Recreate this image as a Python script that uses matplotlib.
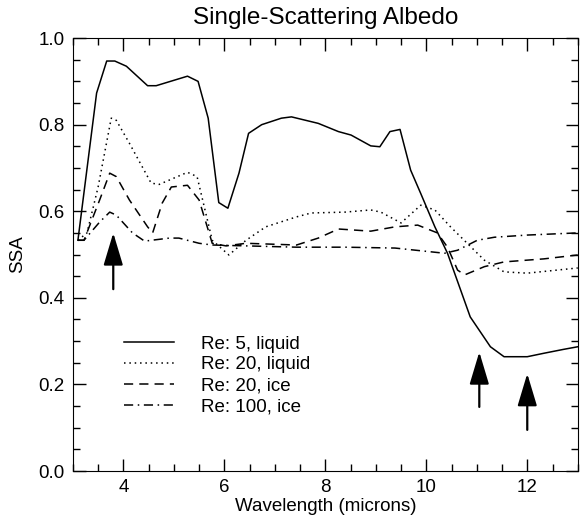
import matplotlib
matplotlib.use("Agg")
from matplotlib import pyplot as plt
from matplotlib.ticker import MultipleLocator

plt.rcParams['font.family'] = ['Liberation Sans', 'DejaVu Sans']

# Re: 5, liquid
wl_1 = [3.1, 3.47, 3.67, 3.83, 4.06, 4.48, 4.65, 5.27, 5.48, 5.68, 5.89, 6.07, 6.29, 6.48,
        6.74, 7.13, 7.33, 7.86, 8.26, 8.51, 8.9, 9.08, 9.28, 9.48, 9.69, 9.89, 10.17, 10.42,
        10.87, 11.27, 11.54, 12.0, 12.33, 12.72, 13.0]
ssa_1 = [0.533, 0.873, 0.947, 0.947, 0.935, 0.89, 0.89, 0.912, 0.90, 0.815, 0.62, 0.607, 0.688, 0.78,
         0.80, 0.815, 0.818, 0.803, 0.784, 0.776, 0.751, 0.749, 0.784, 0.789, 0.695, 0.641, 0.564, 0.503,
         0.356, 0.287, 0.264, 0.264, 0.272, 0.281, 0.287]

# Re: 20, liquid
wl_2 = [3.1, 3.28, 3.5, 3.76, 3.86, 4.12, 4.55, 4.71, 5.27, 5.46, 5.76, 6.09, 6.43, 6.82, 7.43,
        7.72, 8.39, 8.9, 9.1, 9.5, 9.89, 10.17, 10.48, 11.15, 11.54, 12.0, 13.0]
ssa_2 = [0.533, 0.55, 0.656, 0.815, 0.81, 0.757, 0.665, 0.662, 0.69, 0.68, 0.533, 0.499, 0.533, 0.564, 0.587,
         0.596, 0.598, 0.603, 0.598, 0.573, 0.614, 0.603, 0.564, 0.487, 0.46, 0.457, 0.469]

# Re: 20, ice
wl_3 = [3.1, 3.22, 3.53, 3.73, 3.86, 4.12, 4.48, 4.58, 4.77, 4.95, 5.27, 5.5, 5.76, 6.03, 6.43,
        7.43, 7.86, 8.26, 8.9, 9.38, 9.83, 10.22, 10.42, 10.62, 10.76, 11.15, 11.54, 12.33, 13.0]
ssa_3 = [0.533, 0.533, 0.626, 0.688, 0.68, 0.626, 0.564, 0.55, 0.619, 0.656, 0.66, 0.626, 0.526, 0.52, 0.526,
         0.522, 0.538, 0.559, 0.554, 0.564, 0.568, 0.55, 0.517, 0.464, 0.453, 0.472, 0.483, 0.49, 0.499]

# Re: 100, ice
wl_4 = [3.1, 3.22, 3.53, 3.73, 3.86, 4.18, 4.42, 4.91, 5.1, 5.5, 5.76, 7.43, 8.39, 9.38, 10.36,
        10.62, 11.01, 11.35, 12.0, 13.0]
ssa_4 = [0.533, 0.533, 0.575, 0.598, 0.591, 0.55, 0.531, 0.538, 0.538, 0.526, 0.522, 0.517, 0.517, 0.515, 0.503,
         0.51, 0.533, 0.54, 0.545, 0.55]

labels = ['Re: 5, liquid', 'Re: 20, liquid', 'Re: 20, ice', 'Re: 100, ice']

# arrows: wavelength, tip, tail
arrow_x = [3.8, 11.05, 12.0]
arrow_tip = [0.55, 0.275, 0.225]
arrow_tail = [0.42, 0.148, 0.095]

fig = plt.figure(figsize=(5.83, 5.16), dpi=100)
ax = fig.add_axes([0.125, 0.0872, 0.866, 0.839])

ax.plot(wl_1, ssa_1, color='black', lw=1.1, label=labels[0])
ax.plot(wl_2, ssa_2, color='black', lw=1.1, linestyle=(0, (1, 2.5)), label=labels[1])
ax.plot(wl_3, ssa_3, color='black', lw=1.1, linestyle=(0, (6, 4)), label=labels[2])
ax.plot(wl_4, ssa_4, color='black', lw=1.1, linestyle=(0, (6, 3, 1, 3)), label=labels[3])

for x, tip, tail in zip(arrow_x, arrow_tip, arrow_tail):
    ax.annotate('', xy=(x, tip), xytext=(x, tail),
                arrowprops=dict(arrowstyle='-|>,head_length=2.0,head_width=0.6',
                                mutation_scale=10, color='black', lw=1.6,
                                shrinkA=0, shrinkB=0))

ax.set_xlim(3, 13)
ax.set_ylim(0, 1.0)
ax.xaxis.set_major_locator(MultipleLocator(2))
ax.xaxis.set_minor_locator(MultipleLocator(0.5))
ax.yaxis.set_major_locator(MultipleLocator(0.2))
ax.yaxis.set_minor_locator(MultipleLocator(0.05))
ax.yaxis.set_major_formatter(matplotlib.ticker.FormatStrFormatter('%.1f'))
ax.tick_params(which='both', direction='in', top=True, right=True, labelsize=13.5, width=1)
ax.tick_params(which='major', length=9, pad=6)
ax.tick_params(which='minor', length=5)

ax.set_title('Single-Scattering Albedo', fontsize=17.5, pad=10)
ax.set_xlabel('Wavelength (microns)', fontsize=13.5, labelpad=1)
ax.set_ylabel('SSA', fontsize=13.5, labelpad=9)

ax.legend(loc='upper left', bbox_to_anchor=(0.101, 0.313), frameon=False, fontsize=13.5,
          handlelength=2.7, handletextpad=1.4, labelspacing=0.2, borderpad=0, borderaxespad=0)

fig.savefig('out.png', dpi=100)
